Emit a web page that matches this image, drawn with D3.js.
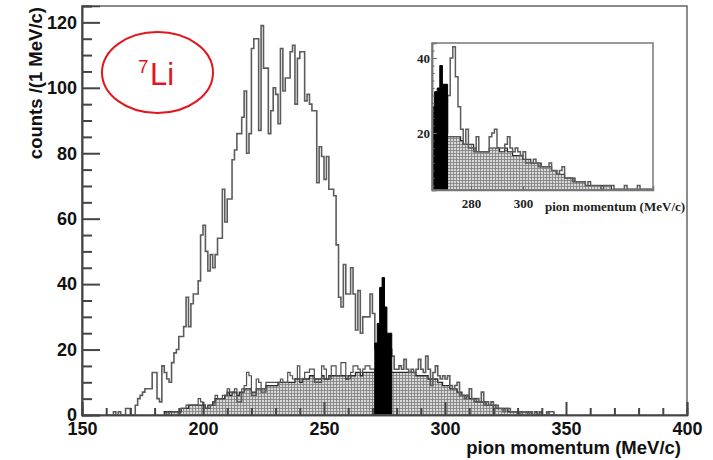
<!DOCTYPE html>
<html><head><meta charset="utf-8">
<script src="https://cdn.jsdelivr.net/npm/d3@7"></script>
<style>body{margin:0;background:#fff}svg{display:block}</style>
</head><body>
<svg id="c" width="713" height="460"></svg>
<script>
// ---------- data (1 MeV/c bins, value = counts) ----------
const wStart = 160; // open histogram (all events)
const wCounts = [
 0,0,0,1,0,1,0,0,2,2,
 0,0,3,5,6,7,8,8,8,13,
 13,5,4,15,13,11,10,16,19,20,
 24,24,27,36,27,34,37,37,41,55,
 58,50,44,49,45,49,54,54,69,59,
 66,66,78,81,86,86,91,99,80,86,
 112,115,115,87,119,106,106,86,93,100,
 98,89,112,99,103,103,111,113,95,109,
 111,111,96,98,95,93,93,71,82,79,
 72,79,69,69,67,52,36,33,46,37,
 37,45,37,26,38,25,30,30,30,37,
 31,20,20,20,20,20,20,20,18,14,
 14,15,14,17,14,13,14,13,14,17,
 14,13,18,14,9,13,15,12,11,12,
 11,12,9,8,9,10,6,6,5,6,
 8,5,4,5,4,7,3,4,3,4,
 2,3,2,2,1,2,2,1,1,1,
 1,0,1,1,0,1,0,1,0,1,
 0,0,1,1,1,0];
const gStart = 184; // shaded histogram
const gCounts = [
 1,1,1,1,1,1,1,2,2,2,
 3,3,3,3,3,3,3,2,3,3,
 4,5,5,5,5,6,7,6,7,7,
 6,7,7,8,8,8,7,7,8,8,
 8,8,9,9,9,9,9,10,10,10,
 10,10,10,10,11,11,10,11,11,11,
 12,12,11,11,11,12,11,11,12,12,
 12,12,12,12,12,11,12,12,12,13,
 13,12,13,13,13,13,13,13,13,13,
 13,13,13,13,13,13,13,13,13,13,
 13,13,13,13,12,12,12,12,12,11,
 11,11,11,10,10,9,9,9,8,8,
 8,7,7,6,6,6,5,5,5,4,
 4,4,4,3,3,3,3,2,2,2,
 2,2,1,1,1,1,1,1,1,1,
 1,1,0,1,0,1,0,0,1,0,
 0,0];
const dStart = 184; // thin outline histogram over the shaded one
const dCounts = [
 0,1,0,1,1,1,1,2,2,3,
 3,3,3,3,5,4,3,2,2,3,
 3,6,5,5,6,6,8,7,7,8,
 4,4,8,9,13,12,6,6,11,10,
 7,7,10,10,10,10,10,10,11,10,
 10,13,12,11,11,15,11,11,13,13,
 14,14,10,10,10,15,14,11,11,15,
 15,12,12,16,16,12,11,13,15,15,
 14,13,14,15,15,14,14];
const bStart = 271; // black peak
const bCounts = [22,28,39,42,33,25,25];

// inset
const iStart = 265;
const iBlack = [27,31,32,38,33,33];
const iOpen = [20,20,20,20,20,20,
 30,40,43,35,27,21,17,21,16,16,15,19,15,15,15,15,19,20,21,16,16,16,17,19,16,15,16,15,14,15,
 12,12,12,13,12,11,11,11,11,12,10,10,9,10,11,8,8,8,7,7,7,7,7,6,7,6,6,6,6,5,
 6,6,6,6,5,5,5,5,6,5,5,5,5,6,5,5,5,5,5];
const iShade = [19,19,19,19,19,19,
 19,19,19,19,19,18,17,17,17,17,16,15,15,15,15,15,16,16,16,16,15,15,16,15,15,14,14,14,14,13,
 13,13,12,12,12,12,11,11,11,11,10,10,9,9,9,8,8,8,8,7,7,7,7,6,6,6,6,6,6,6,
 6,6,6,5,5,5,5,5,5,5,5,5,5,5,5,5,5,5,5];

const xTicksMajor = [150,200,250,300,350,400];
const yTicksMajor = [0,20,40,60,80,100,120];
const insetXTicks = [280,300];
const insetYTicks = [20,40];

// ---------- drawing ----------
const svg = d3.select("#c");
const x = d3.scaleLinear().domain([150,400]).range([82,687]);
const y = d3.scaleLinear().domain([0,125]).range([415,6]);

const defs = svg.append("defs");
const pat = defs.append("pattern").attr("id","hatch").attr("patternUnits","userSpaceOnUse")
  .attr("width",3).attr("height",3);
pat.append("rect").attr("width",3).attr("height",3).attr("fill","#d8d8d8");
pat.append("path").attr("d","M0,0.5H3M0.5,0V3").attr("stroke","#7e7e7e").attr("stroke-width",0.8);

function stepPts(start, counts, base){
  const p = [[start, base]];
  counts.forEach((c,i)=>{ p.push([start+i, c]); p.push([start+i+1, c]); });
  p.push([start+counts.length, base]);
  return p;
}
const mk = (xs, ys) => d3.line().x(d=>xs(d[0])).y(d=>ys(d[1]));

const plot = svg.append("g");
const L = mk(x,y);
plot.append("path").attr("d", L(stepPts(gStart,gCounts,0)))
  .attr("fill","url(#hatch)").attr("stroke","#2a2a2a").attr("stroke-width",1.3);
plot.append("path").attr("d", L(stepPts(dStart,dCounts,0)))
  .attr("fill","none").attr("stroke","#505050").attr("stroke-width",1.2);
plot.append("path").attr("d", L(stepPts(wStart,wCounts,0)))
  .attr("fill","none").attr("stroke","#5c5c5c").attr("stroke-width",1.6);
plot.append("path").attr("d", L(stepPts(bStart,bCounts,0)))
  .attr("fill","#000").attr("stroke","#000").attr("stroke-width",1);

// frame
svg.append("rect").attr("x",82).attr("y",6).attr("width",605).attr("height",409)
  .attr("fill","none").attr("stroke","#666").attr("stroke-width",1.5);

// axes
const fontAx = "'Liberation Sans', Arial, sans-serif";
const yAx = svg.append("g").attr("transform","translate(82,0)")
  .call(d3.axisLeft(y).tickValues(yTicksMajor).tickSize(-18).tickPadding(5).tickFormat(d3.format("d")));
const yMin = svg.append("g").attr("transform","translate(82,0)")
  .call(d3.axisLeft(y).tickValues(d3.range(0,126,5).filter(v=>v%20)).tickSize(-10).tickFormat(""));
const xAx = svg.append("g").attr("transform","translate(0,415)")
  .call(d3.axisBottom(x).tickValues(xTicksMajor).tickSize(-13).tickPadding(7).tickFormat(d3.format("d")));
const xMin = svg.append("g").attr("transform","translate(0,415)")
  .call(d3.axisBottom(x).tickValues(d3.range(160,400,10).filter(v=>v%50)).tickSize(-7).tickFormat(""));
[yAx,yMin,xAx,xMin].forEach(g=>{
  g.select(".domain").attr("stroke","#444").attr("stroke-width",1.6);
  g.selectAll(".tick line").attr("stroke","#444").attr("stroke-width",2);
  g.selectAll("text").attr("font-family",fontAx).attr("font-weight","bold")
    .attr("font-size",18).attr("fill","#111");
});

svg.append("text").attr("transform","translate(42,7) rotate(-90)")
  .attr("text-anchor","end").attr("font-family",fontAx).attr("font-weight","bold")
  .attr("font-size",18.5).attr("fill","#111").text("counts /(1 MeV/c)");
svg.append("text").attr("x",681).attr("y",454).attr("text-anchor","end")
  .attr("font-family",fontAx).attr("font-weight","bold").attr("font-size",18.5)
  .attr("fill","#111").text("pion momentum (MeV/c)");

// 7Li label
svg.append("ellipse").attr("cx",157.5).attr("cy",72.5).attr("rx",55.5).attr("ry",40.5)
  .attr("fill","none").attr("stroke","#e3161d").attr("stroke-width",2);
const t = svg.append("text").attr("fill","#e3161d").attr("font-family",fontAx);
t.append("tspan").attr("x",138).attr("y",73).attr("font-size",19).text("7");
t.append("tspan").attr("x",150).attr("y",85).attr("font-size",31).text("Li");

// ---------- inset ----------
const xi = d3.scaleLinear().domain([265,350]).range([432,653]);
const yi = d3.scaleLinear().domain([4.8,44]).range([190,43]);
defs.append("clipPath").attr("id","ic").append("rect")
  .attr("x",432).attr("y",43).attr("width",221).attr("height",147);
svg.append("rect").attr("x",432).attr("y",43).attr("width",221).attr("height",147).attr("fill","#fff");
const ig = svg.append("g").attr("clip-path","url(#ic)");
const Li = mk(xi,yi);
ig.append("path").attr("d", Li(stepPts(iStart,iShade,0)))
  .attr("fill","url(#hatch)").attr("stroke","#2a2a2a").attr("stroke-width",1.2);
ig.append("path").attr("d", Li(stepPts(iStart,iOpen,0)))
  .attr("fill","none").attr("stroke","#5c5c5c").attr("stroke-width",1.5);
ig.append("path").attr("d", Li(stepPts(iStart,iBlack,0)))
  .attr("fill","#000").attr("stroke","#000").attr("stroke-width",1);
svg.append("rect").attr("x",432).attr("y",43).attr("width",221).attr("height",147)
  .attr("fill","none").attr("stroke","#777").attr("stroke-width",1.5);
const iy = svg.append("g").attr("transform","translate(432,0)")
  .call(d3.axisLeft(yi).tickValues(insetYTicks).tickSize(-5).tickPadding(2).tickFormat(d3.format("d")));
const iyMin = svg.append("g").attr("transform","translate(432,0)")
  .call(d3.axisLeft(yi).tickValues(d3.range(6,44,2).filter(v=>v%20)).tickSize(-2.5).tickFormat(""));
const ix = svg.append("g").attr("transform","translate(0,190)")
  .call(d3.axisBottom(xi).tickValues(insetXTicks).tickSize(-4).tickPadding(9).tickFormat(d3.format("d")));
[iy,iyMin,ix].forEach(g=>{
  g.select(".domain").attr("stroke","#777").attr("stroke-width",1.5);
  g.selectAll(".tick line").attr("stroke","#666").attr("stroke-width",1);
  g.selectAll("text").attr("font-family","'Liberation Serif', 'Times New Roman', serif")
    .attr("font-weight","bold").attr("font-size",13).attr("fill","#222");
});
svg.append("text").attr("x",545).attr("y",211)
  .attr("font-family","'Liberation Serif', 'Times New Roman', serif").attr("font-weight","bold")
  .attr("font-size",13).attr("fill","#222").text("pion momentum (MeV/c)");
</script>
</body></html>
